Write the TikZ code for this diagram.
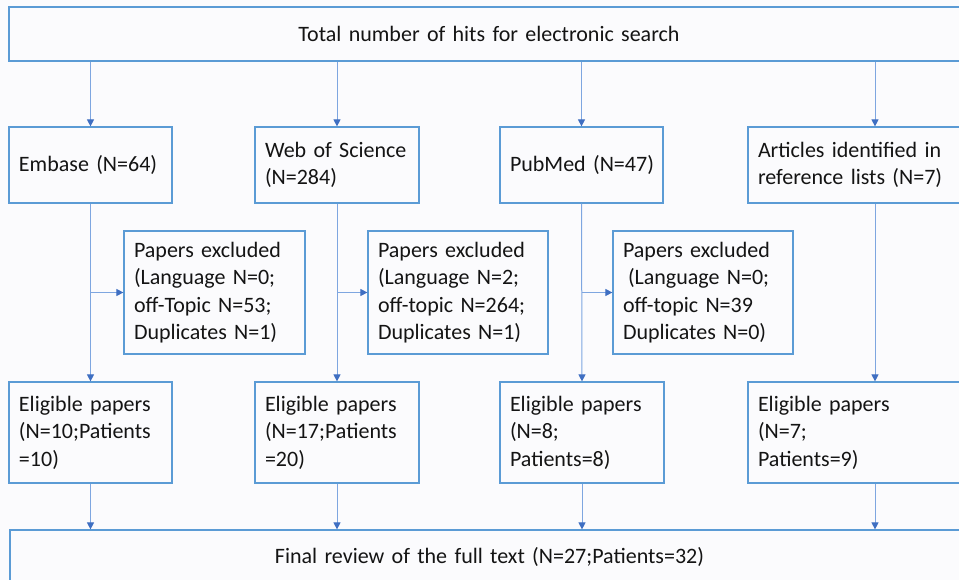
\documentclass[tikz,border=0pt]{standalone}
\usepackage{fontspec}
\setmainfont{Carlito}
\usepackage{xcolor}
\usetikzlibrary{arrows.meta,calc}
\definecolor{boxc}{HTML}{5B9BD5}
\definecolor{linec}{HTML}{7EA6E0}
\definecolor{tipc}{HTML}{3F6FC2}
\definecolor{bgc}{HTML}{FBFBFD}
\definecolor{ink}{HTML}{141414}
\tikzset{
  box/.style={draw=boxc, line width=1.2pt, fill=bgc, align=left, inner xsep=10pt, inner ysep=2pt, text=ink,
    font=\fontsize{22}{27.5}\selectfont},
  wide/.style={box, align=center},
  arr/.style={draw=linec, line width=1pt, -{Triangle[length=7pt,width=7pt,color=tipc]}},
}
\newcommand{\flowbox}[7][box]{%
  \pgfmathsetmacro{\tw}{#5-#3-20}%
  \node[#1, text width=\tw pt, minimum height={#6-#4}] (#2) at ({(#3+#5)/2},{(#4+#6)/2}) {#7};}

\begin{document}
\begin{tikzpicture}[x=1pt,y=-1pt]
  \useasboundingbox (0,0) rectangle (959,580);
  \clip (0,0) rectangle (959,580);
  \fill[bgc] (0,0) rectangle (959,580);
  % search and sources
  \flowbox[wide]{hits}{9}{7}{969}{61}{Total number of hits for electronic search}
  \flowbox{emb}{9}{127}{172}{203}{Embase (N=64)}
  \flowbox{wos}{255}{127}{419}{203}{Web of Science\\(N=284)}
  \flowbox{pub}{500}{127}{663}{203}{\mbox{PubMed (N=47)}}
  \flowbox{ref}{748}{127}{1002}{203}{Articles identified in\\reference lists (N=7)}
  % exclusions
  \flowbox{exemb}{124}{231}{305}{354}{Papers excluded\\(Language N=0;\\off-Topic N=53;\\Duplicates N=1)}
  \flowbox{exwos}{368}{231}{548}{354}{Papers excluded\\(Language N=2;\\off-topic N=264;\\Duplicates N=1)}
  \flowbox{expub}{613}{231}{793}{354}{Papers excluded\\\hspace*{5pt}(Language N=0;\\off-topic N=39\\Duplicates N=0)}
  % eligible
  \flowbox{elemb}{9}{382}{172}{483}{Eligible papers\\(N=10;Patients\\=10)}
  \flowbox{elwos}{255}{382}{419}{483}{Eligible papers\\(N=17;Patients\\=20)}
  \flowbox{elpub}{500}{382}{664}{483}{Eligible papers\\(N=8;\\Patients=8)}
  \flowbox{elref}{748}{382}{1002}{483}{Eligible papers\\(N=7;\\Patients=9)}
  \flowbox[wide]{final}{10}{530}{969}{584}{Final review of the full text (N=27;Patients=32)}
  % connectors
  \foreach \src/\el in {emb/elemb, wos/elwos, pub/elpub, ref/elref} {
    \draw[arr] (hits.south -| \src.north) -- (\src.north);
    \draw[arr] (\src.south) -- (\el.north);
    \draw[arr] (\el.south) -- (final.north -| \el.south);
  }
  \foreach \src/\ex in {emb/exemb, wos/exwos, pub/expub}
    \draw[arr] (\src.south |- \ex.west) -- (\ex.west);
\end{tikzpicture}
\end{document}
